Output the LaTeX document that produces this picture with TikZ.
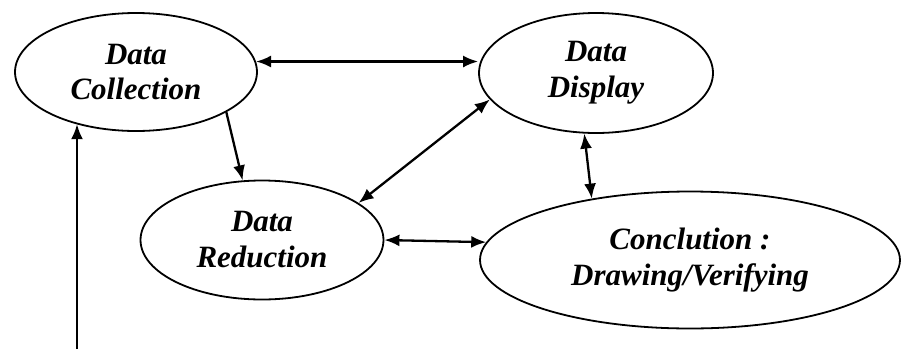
\documentclass[tikz,border=0pt]{standalone}
\usepackage{fontspec}
\setmainfont{Liberation Serif}
\usetikzlibrary{shapes.geometric,arrows.meta}

\begin{document}
\begin{tikzpicture}[scale=0.3515]
\tikzstyle{every node}+=[inner sep=0pt]
\tikzstyle{stage}=[draw=black, line width=1.8pt, fill=white, ellipse, align=center,
  font=\fontsize{31}{36}\selectfont\bfseries\itshape]
\tikzstyle{link}=[line width=2.3pt, {Latex[length=15pt,width=12pt]}-{Latex[length=15pt,width=12pt]}]
\tikzstyle{oneway}=[line width=2.3pt, -{Latex[length=15pt,width=12pt]}]
\useasboundingbox (0,0) rectangle (90.2,-34.9);
\node [stage, minimum width=242pt, minimum height=118pt] (coll) at (13.6,-7.2) {Data\\Collection};
\node [stage, minimum width=234pt, minimum height=120pt] (disp) at (59.6,-7.3) {Data\\Display};
\node [stage, minimum width=243pt, minimum height=119pt] (red) at (26.2,-24) {Data\\Reduction};
\node [stage, minimum width=420pt, minimum height=137pt] (conc) at (69,-26) {Conclution :\\Drawing/Verifying};
\coordinate (start) at (7.7,-34.9);
\draw [link] (coll.5) -- (disp.west |- coll.5);
\draw [oneway] (coll.-24) -- (red.108);
\draw [link] (disp.194) -- (red.21);
\draw [link] (disp.259) -- (conc.148);
\draw [link] (red.east) -- (conc.175);
\draw [oneway] (start) -- (start |- coll.221);
\end{tikzpicture}
\end{document}
